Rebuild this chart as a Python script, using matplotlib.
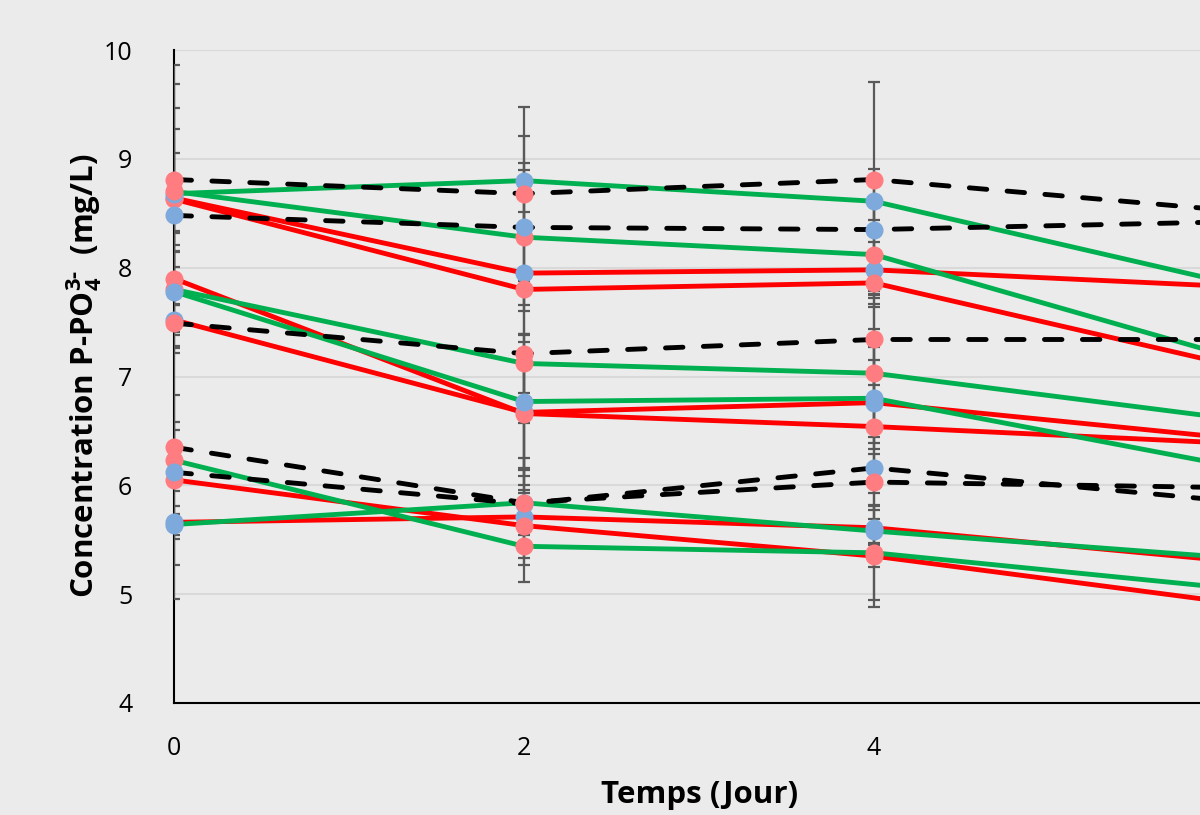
import matplotlib
matplotlib.use("Agg")
import matplotlib.pyplot as plt

plt.rcParams["font.family"] = ["Open Sans", "DejaVu Sans"]
plt.rcParams["mathtext.fontset"] = "custom"
plt.rcParams["mathtext.rm"] = "Open Sans:bold"
plt.rcParams["mathtext.bf"] = "Open Sans:bold"

# Days of sampling
days = [0, 2, 4, 6]

# Dashed black series (control), values read at day 0, 2, 4, 6
dash_series = [
    [8.81, 8.68, 8.81, 8.53],
    [8.48, 8.37, 8.35, 8.42],
    [7.49, 7.21, 7.34, 7.34],
    [6.12, 5.83, 6.16, 5.86],
    [6.35, 5.84, 6.03, 5.98],
]
dash_markers = ["pink", "blue", "pink", "blue", "pink"]
dash_err = [[1.05, 0.80, 0.90], [0.16, 0.59, 0.56], [0.27, 0.59, 0.42],
            [1.16, 0.42, 1.28], [0.23, 0.73, 0.26]]

# Green series
green_series = [
    [8.68, 8.80, 8.61, 7.87],
    [8.70, 8.28, 8.12, 7.20],
    [7.80, 7.12, 7.03, 6.62],
    [7.78, 6.77, 6.80, 6.19],
    [6.23, 5.44, 5.38, 5.06],
    [5.64, 5.84, 5.58, 5.34],
]
green_markers = ["blue", "pink", "pink", "blue", "pink", "blue"]
green_err = [[1.01, 0.41, 0.17], [0.77, 0.62, 0.48], [0.54, 0.27, 0.64],
             [0.37, 0.61, 0.47], [0.28, 0.17, 0.43], [0.10, 0.30, 0.11]]

# Red series
red_series = [
    [8.64, 7.95, 7.98, 7.83],
    [8.63, 7.80, 7.86, 7.12],
    [7.52, 6.67, 6.76, 6.44],
    [7.90, 6.66, 6.54, 6.39],
    [5.66, 5.71, 5.61, 5.31],
    [6.05, 5.63, 5.35, 4.93],
]
red_markers = ["blue", "pink", "blue", "pink", "blue", "pink"]
red_err = [[0.63, 0.56, 0.26], [0.42, 0.20, 0.11], [0.14, 0.58, 0.32],
           [0.24, 0.66, 0.61], [0.15, 0.25, 0.21], [0.78, 0.30, 0.10]]

marker_colors = {"pink": "#FF7C80", "blue": "#7DA9DC"}
bg = "#EBEBEB"

fig = plt.figure(figsize=(12, 8.15), dpi=100, facecolor=bg)
ax = fig.add_axes([174 / 1200, 112 / 815, 1026 / 1200, 653 / 815])
ax.set_facecolor(bg)

groups = [
    (red_series, red_markers, red_err, dict(color="#FF0000", lw=3.5, ls="-")),
    (green_series, green_markers, green_err, dict(color="#00B050", lw=3.5, ls="-")),
    (dash_series, dash_markers, dash_err,
     dict(color="black", lw=3.5, ls=(0, (3.6, 4.2)), dash_capstyle="round")),
]

# lines first, then error bars, then markers on top
for series, mcols, errs, style in groups:
    for vals in series:
        ax.plot(days, vals, zorder=2, **style)

for series, mcols, errs, style in groups:
    for vals, e in zip(series, errs):
        ax.errorbar(days[:3], vals[:3], yerr=e, fmt="none", ecolor="#595959",
                    elinewidth=1.6, capsize=4.5, capthick=1.6, zorder=5)

z = 10
for series, mcols, errs, style in groups:
    for vals, mc in zip(series, mcols):
        ax.plot(days, vals, "o", ms=13, color=marker_colors[mc], mec="none",
                clip_on=False, zorder=z)
        z += 1

ax.set_xlim(0, 1026 / 175)
ax.set_ylim(4, 10)
ax.set_xticks([0, 2, 4])
ax.set_yticks(range(4, 11))
ax.yaxis.grid(True, color="#D9D9D9", lw=1.5, zorder=0)
ax.set_axisbelow(True)
ax.tick_params(axis="both", length=0, labelsize=18, pad=30)
ax.tick_params(axis="x", pad=24)
for side in ["top", "right"]:
    ax.spines[side].set_visible(False)
for side in ["left", "bottom"]:
    ax.spines[side].set_color("black")
    ax.spines[side].set_linewidth(1.5)

fig.text(700 / 1200, 1 - 795 / 815, "Temps (Jour)", fontsize=22.5, fontweight="bold",
         ha="center", va="center")
fig.text(84 / 1200, 1 - 376 / 815, r"Concentration P-PO$_4^{3\text{-}}$  (mg/L)",
         fontsize=22.5, fontweight="bold", rotation=90, ha="center", va="center")

fig.savefig("out.png", dpi=100, facecolor=bg)
